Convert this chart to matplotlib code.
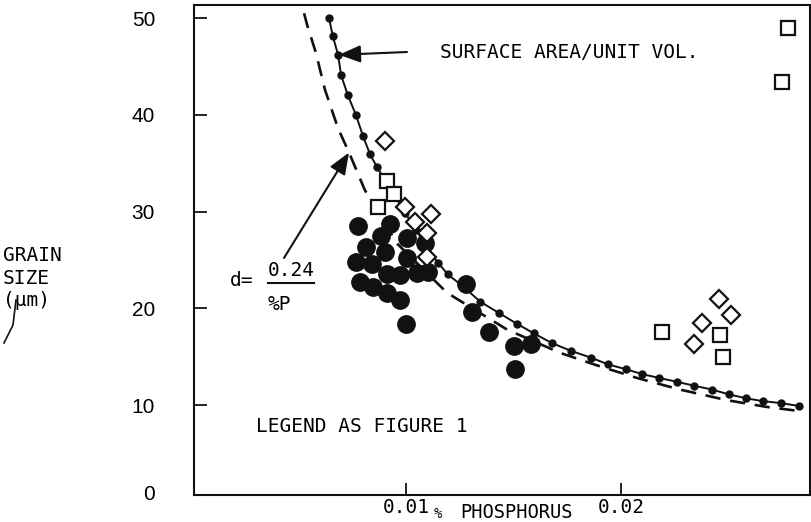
import matplotlib
matplotlib.use("Agg")
import matplotlib.pyplot as plt
from matplotlib.lines import Line2D

W, H = 812, 522
MONO = "DejaVu Sans Mono"

# grain size (um) against % phosphorus
circle_p = [0.00777, 0.00926, 0.00884, 0.00814, 0.00902, 0.01005, 0.01088,
            0.00767, 0.00842, 0.01005, 0.00912, 0.00972, 0.01051, 0.01102,
            0.00786, 0.00847, 0.00912, 0.00972, 0.01000, 0.01279, 0.01307,
            0.01386, 0.01502, 0.01581, 0.01507]
circle_d = [28.5, 28.7, 27.5, 26.3, 25.8, 27.3, 26.7,
            24.8, 24.6, 25.2, 23.5, 23.4, 23.6, 23.7,
            22.7, 22.2, 21.6, 20.9, 18.4, 22.5, 19.6,
            17.6, 16.1, 16.3, 13.7]

square_p = [0.00912, 0.00944, 0.00870, 0.02777, 0.02749, 0.02191, 0.02460, 0.02474]
square_d = [33.2, 31.8, 30.5, 49.0, 43.4, 17.6, 17.2, 15.0]

diamond_p = [0.00902, 0.00995, 0.01042, 0.01116, 0.01098, 0.01098,
             0.02456, 0.02512, 0.02377, 0.02340]
diamond_d = [37.3, 30.5, 28.9, 29.7, 27.8, 25.3, 21.0, 19.3, 18.5, 16.3]

# surface area / unit volume curve (dotted points)
sa_p = [0.00642, 0.00660, 0.00684, 0.00698, 0.00730, 0.00767, 0.00800,
        0.00833, 0.00865, 0.00907, 0.00949, 0.00995, 0.01047, 0.01098,
        0.01149, 0.01195, 0.01274, 0.01344, 0.01433, 0.01516, 0.01595,
        0.01679, 0.01767, 0.01860, 0.01940, 0.02023, 0.02098, 0.02177,
        0.02260, 0.02340, 0.02423, 0.02502, 0.02581, 0.02660, 0.02744,
        0.02828]
sa_d = [50.0, 48.1, 46.2, 44.1, 42.0, 40.0, 37.8,
        35.9, 34.6, 33.1, 31.6, 29.9, 28.1, 26.3,
        24.7, 23.5, 22.1, 20.7, 19.5, 18.4, 17.4,
        16.4, 15.6, 14.9, 14.2, 13.7, 13.2, 12.8,
        12.4, 12.0, 11.6, 11.1, 10.7, 10.4, 10.2,
        9.9]

# d = 0.24/%P (dashed)
eq_p = [0.00526, 0.00540, 0.00581, 0.00623, 0.00684, 0.00735, 0.00809,
        0.00958, 0.01191, 0.01470, 0.01716, 0.01888, 0.02074, 0.02274,
        0.02493, 0.02679, 0.02823]
eq_d = [50.5, 49.3, 46.4, 42.6, 38.6, 36.1, 32.2,
        26.7, 21.6, 17.8, 15.4, 14.1, 12.8, 11.6,
        10.5, 9.8, 9.4]

y_ticks = [10, 20, 30, 40, 50]
x_ticks = [0.01, 0.02]
x_tick_labels = ["0.01", "0.02"]


def fpx(x, y):
    """pixel position in the image -> figure fraction"""
    return x / W, 1 - y / H


plt.rcParams["lines.scale_dashes"] = False
fig = plt.figure(figsize=(W / 100, H / 100), dpi=100)
ax = fig.add_axes([194 / W, 27 / H, 616 / W, 490 / H])

ax.plot(eq_p, eq_d, color="#111111", lw=1.9, dashes=(11, 7), zorder=2)
ax.plot(sa_p, sa_d, color="#111111", lw=1.4, marker="o", ms=5,
        mfc="#111111", mec="#111111", zorder=3)
ax.plot(circle_p, circle_d, ls="none", marker="o", ms=12.5,
        mfc="#111111", mec="#111111", zorder=4)
ax.plot(square_p, square_d, ls="none", marker="s", ms=10.5,
        mfc="white", mec="#111111", mew=1.6, zorder=5)
ax.plot(diamond_p, diamond_d, ls="none", marker="D", ms=9,
        mfc="white", mec="#111111", mew=1.6, zorder=5)

ax.set_xlim(0.00014, 0.02879)
ax.set_ylim(0.7, 51.35)
ax.set_xticks(x_ticks)
ax.set_xticklabels(x_tick_labels, family=MONO, fontsize=14)
ax.set_yticks(y_ticks)
ax.set_yticklabels([str(t) for t in y_ticks], family="Liberation Sans",
                   fontsize=15)
ax.tick_params(axis="both", direction="in", length=9, width=1.3,
               color="#111111")
ax.tick_params(axis="y", pad=28)
ax.tick_params(axis="x", pad=2)
for sp in ax.spines.values():
    sp.set_linewidth(1.5)
    sp.set_color("#111111")

# "0" at the origin of the y axis
fig.text(*fpx(155, 495), "0", family="Liberation Sans", fontsize=15,
         ha="right", va="center")

# axis labels
fig.text(*fpx(3, 278), "GRAIN\nSIZE\n(\u03bcm)", family=MONO, fontsize=14,
         ha="left", va="center", linespacing=1.25)
fig.add_artist(Line2D([16 / W, 13 / W, 4 / W],
                      [1 - 300 / H, 1 - 325 / H, 1 - 343 / H],
                      color="#111111", lw=1.2))
fig.text(*fpx(438, 521.5), "%", family=MONO, fontsize=10,
         ha="center", va="bottom")
fig.text(*fpx(460, 521.5), "PHOSPHORUS", family=MONO, fontsize=13.5,
         ha="left", va="bottom")

# annotations
ax.text(*fpx(440, 53), "SURFACE AREA/UNIT VOL.", transform=fig.transFigure,
        family=MONO, fontsize=14, ha="left", va="center")
arrow = dict(arrowstyle="-|>,head_length=0.55,head_width=0.22",
             color="#111111", lw=1.5, mutation_scale=24,
             shrinkA=0, shrinkB=0)
ax.annotate("", xy=(sa_p[2] + 0.00004, sa_d[2]), xycoords="data",
            xytext=fpx(407, 52), textcoords="figure fraction",
            arrowprops=arrow)
ax.annotate("", xy=(eq_p[5], eq_d[5]), xycoords="data",
            xytext=fpx(284, 258), textcoords="figure fraction",
            arrowprops=arrow)

fig.text(*fpx(230, 281), "d=", family=MONO, fontsize=14,
         ha="left", va="center")
fig.text(*fpx(291, 271), "0.24", family=MONO, fontsize=14,
         ha="center", va="center")
fig.add_artist(Line2D([268 / W, 314 / W], [1 - 283 / H, 1 - 283 / H],
                      color="#111111", lw=1.5))
fig.text(*fpx(268, 305), "%P", family=MONO, fontsize=14,
         ha="left", va="center")

fig.text(*fpx(256, 426), "LEGEND AS FIGURE 1", family=MONO, fontsize=14,
         ha="left", va="center")

fig.savefig("out.png", dpi=100)
